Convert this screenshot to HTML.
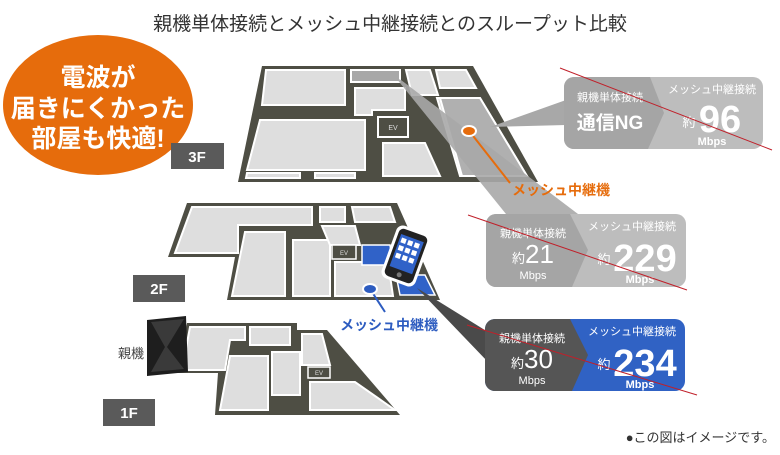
<!DOCTYPE html>
<html><head><meta charset="utf-8"><style>
html,body{margin:0;padding:0;background:#fff;}
body{width:780px;height:450px;overflow:hidden;position:relative;font-family:"Liberation Sans","Noto Sans CJK JP",sans-serif;}
svg text{font-family:"Liberation Sans","Noto Sans CJK JP",sans-serif;}
</style></head><body>
<svg width="780" height="450" viewBox="0 0 780 450" xmlns="http://www.w3.org/2000/svg">
<text x="390" y="30" text-anchor="middle" font-size="19" fill="#333">親機単体接続とメッシュ中継接続とのスループット比較</text>

<ellipse cx="98" cy="105" rx="95" ry="70" fill="#e66c0c"/>
<g fill="#fff" font-size="25" font-weight="bold" text-anchor="middle">
<text x="98" y="86">電波が</text>
<text x="98" y="117">届きにくかった</text>
<text x="98" y="147">部屋も快適!</text>
</g>

<!-- 3F floor -->
<polygon points="262,66 473,66 538,182 238,182" fill="#4e4e44"/>
<g fill="#dedede" stroke="#fff" stroke-width="2">
<polygon points="266,70 345,70 345,105 262,105"/>
<polygon points="351,70 400,70 400,82 351,82" fill="#a8a8a8"/>
<polygon points="355,88 405,88 405,110 372,110 372,115 355,115"/>
<polygon points="406,70 430,70 438,95 412,95"/>
<polygon points="436,70 466,70 476,88 440,88"/>
<polygon points="437,98 480,98 527,176 460,176"/>
<polygon points="260,120 365,120 365,170 247,170"/>
<polygon points="383,143 425,143 440,176 383,176"/>
<polygon points="247,173 300,173 300,178 246,178"/>
<polygon points="315,173 355,173 355,178 315,178"/>
</g>
<polygon points="440,98 480,98 527,176 462,176" fill="#b0b0b0" stroke="#fff" stroke-width="2"/>
<rect x="378" y="117" width="30" height="20" fill="#4e4e44" stroke="#fff" stroke-width="2"/>
<text x="393" y="130" font-size="7" fill="#ddd" text-anchor="middle">EV</text>
<rect x="171" y="143" width="53" height="26" fill="#5a5a5a"/>
<text x="197" y="162" font-size="15" font-weight="bold" fill="#fff" text-anchor="middle">3F</text>

<!-- 2F floor -->
<polygon points="187,203 397,203 440,300 227,300 235,257 168,257" fill="#4e4e44"/>
<g fill="#dedede" stroke="#fff" stroke-width="2">
<polygon points="192,207 312,207 312,225 238,225 238,253 175,253"/>
<polygon points="245,232 285,232 285,296 232,296"/>
<polygon points="293,240 330,240 330,296 293,296"/>
<polygon points="320,207 345,207 345,222 320,222"/>
<polygon points="322,226 355,226 360,245 330,245"/>
<polygon points="352,207 390,207 395,222 355,222"/>
<polygon points="335,262 388,262 393,296 335,296"/>
</g>
<rect x="332" y="245" width="24" height="14" fill="#4e4e44" stroke="#fff" stroke-width="1.5"/>
<text x="344" y="255" font-size="6" fill="#ddd" text-anchor="middle">EV</text>
<polygon points="362,245 390,245 393,265 362,265" fill="#3062c8" stroke="#fff" stroke-width="1.5"/>
<polygon points="396,275 425,275 435,295 400,295" fill="#3062c8" stroke="#fff" stroke-width="1.5"/>
<rect x="133" y="275" width="52" height="27" fill="#5a5a5a"/>
<text x="159" y="294" font-size="15" font-weight="bold" fill="#fff" text-anchor="middle">2F</text>

<!-- 1F floor -->
<polygon points="187,323 297,323 297,330 327,330 400,415 215,415 218,373 178,373" fill="#4e4e44"/>
<g fill="#dedede" stroke="#fff" stroke-width="2">
<polygon points="190,327 245,327 245,340 230,340 225,370 182,370"/>
<polygon points="250,327 290,327 290,345 250,345"/>
<polygon points="230,356 268,356 268,410 220,410"/>
<polygon points="272,352 300,352 300,395 272,395"/>
<polygon points="302,334 322,334 330,365 302,365"/>
<polygon points="310,382 355,382 395,410 310,410"/>
</g>
<rect x="308" y="367" width="22" height="11" fill="#4e4e44" stroke="#fff" stroke-width="1.5"/>
<text x="319" y="375" font-size="6" fill="#ddd" text-anchor="middle">EV</text>
<rect x="103" y="399" width="52" height="27" fill="#5a5a5a"/>
<text x="129" y="418" font-size="15" font-weight="bold" fill="#fff" text-anchor="middle">1F</text>

<!-- router -->
<polygon points="147,320 186,316 188,372 147,376" fill="#1e1e1e"/>
<polygon points="151,322 184,319 167,347 184,369 151,372 165,347" fill="#3a3a3a"/>
<text x="131" y="358" font-size="13" fill="#444" text-anchor="middle">親機</text>

<!-- connectors -->
<polygon points="396,78 401,80 578,214 506,214" fill="#a8a8a8" opacity="0.9"/>
<polygon points="490,127 566,100 566,125" fill="#a8a8a8"/>
<polygon points="417,288 488,332 488,362" fill="#4a4a4a"/>
<line x1="470" y1="132" x2="510" y2="183" stroke="#e66c0c" stroke-width="2"/>
<ellipse cx="469" cy="131" rx="7" ry="5" fill="#e66c0c" stroke="#fff" stroke-width="2"/>
<text x="512" y="195" font-size="14" font-weight="bold" fill="#e66c0c">メッシュ中継機</text>
<line x1="372" y1="292" x2="385" y2="312" stroke="#2d5cc0" stroke-width="2"/>
<ellipse cx="370" cy="289" rx="7" ry="5" fill="#2d5cc0" stroke="#fff" stroke-width="2"/>
<text x="340" y="330" font-size="14" font-weight="bold" fill="#2d5cc0">メッシュ中継機</text>

<g transform="rotate(20 406 256)">
<rect x="388" y="228" width="36" height="56" rx="7" fill="#fff"/>
<rect x="391" y="231" width="30" height="50" rx="5" fill="#222"/>
<rect x="394" y="237" width="24" height="34" fill="#3062c8"/>
<g fill="#fff"><rect x="396" y="240" width="5" height="5"/><rect x="403" y="240" width="5" height="5"/><rect x="410" y="240" width="5" height="5"/><rect x="396" y="248" width="5" height="5"/><rect x="403" y="248" width="5" height="5"/><rect x="410" y="248" width="5" height="5"/><rect x="396" y="256" width="5" height="5"/><rect x="403" y="256" width="5" height="5"/><rect x="410" y="256" width="5" height="5"/></g>
<circle cx="406" cy="276" r="2.5" fill="#777"/>
</g>

<!-- 3F box -->
<rect x="564" y="77" width="199" height="72" rx="10" fill="#bdbdbd"/>
<path d="M574 77 H650 L664 113 L648 149 H574 A10 10 0 0 1 564 139 V87 A10 10 0 0 1 574 77Z" fill="#a5a5a5"/>
<g fill="#fff" text-anchor="middle">
<text x="610" y="101" font-size="11">親機単体接続</text>
<text x="610" y="129" font-size="19" font-weight="bold">通信NG</text>
<text x="712" y="93" font-size="11">メッシュ中継接続</text>
<text x="689" y="127" font-size="13">約</text>
<text x="720" y="132" font-size="38" font-weight="bold">96</text>
<text x="712" y="145" font-size="11" font-weight="bold">Mbps</text>
</g>
<!-- 2F box -->
<rect x="486" y="214" width="200" height="73" rx="10" fill="#bdbdbd"/>
<path d="M496 214 H570 L588 250 L572 287 H496 A10 10 0 0 1 486 277 V224 A10 10 0 0 1 496 214Z" fill="#a5a5a5"/>
<g fill="#fff" text-anchor="middle">
<text x="533" y="237" font-size="11">親機単体接続</text>
<text x="533" y="263" font-size="13">約<tspan font-size="26">21</tspan></text>
<text x="533" y="279" font-size="11">Mbps</text>
<text x="632" y="230" font-size="11">メッシュ中継接続</text>
<text x="604" y="264" font-size="13">約</text>
<text x="645" y="271" font-size="38" font-weight="bold">229</text>
<text x="640" y="283" font-size="11" font-weight="bold">Mbps</text>
</g>
<!-- 1F box -->
<rect x="485" y="319" width="200" height="72" rx="10" fill="#3062c4"/>
<path d="M495 319 H570 L588 355 L572 391 H495 A10 10 0 0 1 485 381 V329 A10 10 0 0 1 495 319Z" fill="#555"/>
<g fill="#fff" text-anchor="middle">
<text x="532" y="342" font-size="11">親機単体接続</text>
<text x="532" y="368" font-size="13">約<tspan font-size="26">30</tspan></text>
<text x="532" y="384" font-size="11">Mbps</text>
<text x="632" y="335" font-size="11">メッシュ中継接続</text>
<text x="604" y="369" font-size="13">約</text>
<text x="645" y="376" font-size="38" font-weight="bold">234</text>
<text x="640" y="388" font-size="11" font-weight="bold">Mbps</text>
</g>

<line x1="560" y1="68" x2="772" y2="150" stroke="#c0202a" stroke-width="1"/>
<line x1="468" y1="215" x2="687" y2="290" stroke="#c0202a" stroke-width="1"/>
<line x1="467" y1="325" x2="697" y2="395" stroke="#c0202a" stroke-width="1"/>

<text x="775" y="442" text-anchor="end" font-size="13" fill="#333">●この図はイメージです。</text>
</svg>
</body></html>
